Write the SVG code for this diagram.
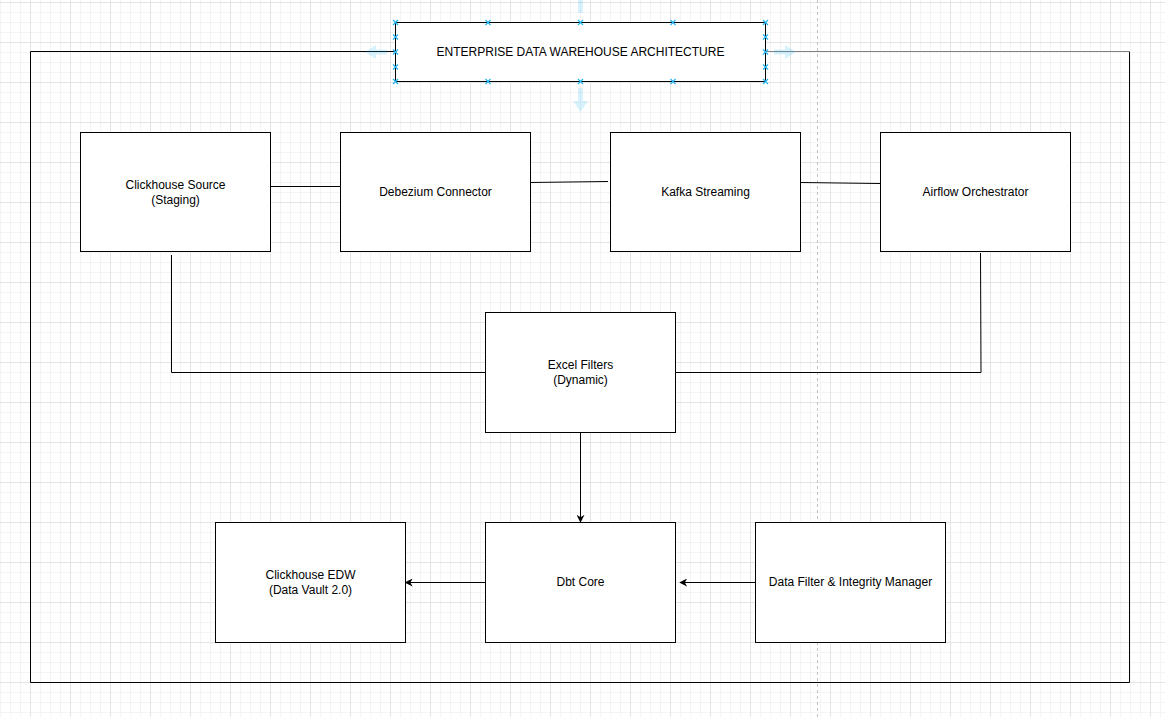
<svg xmlns="http://www.w3.org/2000/svg" width="1165" height="717" viewBox="0 0 1165 717">
<defs>
<pattern id="grid" patternUnits="userSpaceOnUse" x="30" y="2" width="40" height="40">
<path d="M10.5 0V40M20.5 0V40M30.5 0V40M0 10.5H40M0 20.5H40M0 30.5H40" stroke="#f4f4f4" stroke-width="1" fill="none"/>
<path d="M0.5 0V40M0 0.5H40" stroke="#e4e4e4" stroke-width="1" fill="none"/>
</pattern>
<marker id="arr" viewBox="0 0 10 10" refX="9" refY="5" markerWidth="8" markerHeight="8" markerUnits="userSpaceOnUse" orient="auto">
<path d="M0 0L10 5L0 10L3 5Z" fill="#000"/>
</marker>
<g id="hx"><path d="M-2.5 -2.5L2.5 2.5M-2.5 2.5L2.5 -2.5" stroke="#29b6f2" stroke-width="1.3"/></g>
</defs>
<style>
.box{fill:#fff;stroke:#000;stroke-width:1}
.lbl{font-family:"Liberation Sans",Arial,sans-serif;font-size:12px;fill:#000;text-anchor:middle}
.ln{fill:none;stroke:#000;stroke-width:1}
.hov{fill:#29b6f2;opacity:0.18}
</style>
<rect width="1165" height="717" fill="#fff"/>
<rect width="1165" height="717" fill="url(#grid)"/>
<line x1="817.5" y1="0" x2="817.5" y2="717" stroke="#c0c0c0" stroke-dasharray="3,3"/>

<g id="frame">
<path class="ln" d="M395 51.5H30.5V682.5H1129.5V51.5"/>
<line x1="766" y1="51.5" x2="1129.5" y2="51.5" stroke="#808080" stroke-width="1.2"/>
</g>

<g id="connectors">
<line class="ln" x1="270" y1="186.5" x2="340" y2="186.5"/>
<line class="ln" x1="530" y1="182.5" x2="608" y2="181.5"/>
<line class="ln" x1="800" y1="182.5" x2="880" y2="183.5"/>
<path class="ln" d="M171.5 255V372.5H485"/>
<path class="ln" d="M980.5 253L981 372.5H675"/>
<line class="ln" x1="580.5" y1="432" x2="580.5" y2="522" marker-end="url(#arr)"/>
<line class="ln" x1="485" y1="582.5" x2="405.5" y2="582.5" marker-end="url(#arr)"/>
<line class="ln" x1="755" y1="582.5" x2="680" y2="582.5" marker-end="url(#arr)"/>
</g>

<g id="title">
<rect class="box" x="395.5" y="22.5" width="370" height="59"/>
<text class="lbl" x="580.5" y="56">ENTERPRISE DATA WAREHOUSE ARCHITECTURE</text>
</g>
<g id="selection">
<use href="#hx" x="395.5" y="22.5"/><use href="#hx" x="488" y="22.5"/><use href="#hx" x="580.5" y="22.5"/><use href="#hx" x="673" y="22.5"/><use href="#hx" x="765.5" y="22.5"/>
<use href="#hx" x="395.5" y="81.5"/><use href="#hx" x="488" y="81.5"/><use href="#hx" x="580.5" y="81.5"/><use href="#hx" x="673" y="81.5"/><use href="#hx" x="765.5" y="81.5"/>
<use href="#hx" x="395.5" y="37"/><use href="#hx" x="395.5" y="52"/><use href="#hx" x="395.5" y="67"/>
<use href="#hx" x="765.5" y="37"/><use href="#hx" x="765.5" y="52"/><use href="#hx" x="765.5" y="67"/>
<path class="hov" d="M578 0H583V13H578Z"/>
<path class="hov" d="M578 88H583V101H588L580.5 112L573 101H578Z"/>
<path class="hov" d="M387 49.5V54.5H376V59L365 52L376 45V49.5Z"/>
<path class="hov" d="M774 49.5V54.5H785V59L796 52L785 45V49.5Z"/>
</g>

<g id="clickhouse-source">
<rect class="box" x="80.5" y="132.5" width="190" height="119"/>
<text class="lbl" x="175.5" y="189">Clickhouse Source</text>
<text class="lbl" x="175.5" y="204">(Staging)</text>
</g>
<g id="debezium">
<rect class="box" x="340.5" y="132.5" width="190" height="119"/>
<text class="lbl" x="435.5" y="196">Debezium Connector</text>
</g>
<g id="kafka">
<rect class="box" x="610.5" y="132.5" width="190" height="119"/>
<text class="lbl" x="705.5" y="196">Kafka Streaming</text>
</g>
<g id="airflow">
<rect class="box" x="880.5" y="132.5" width="190" height="119"/>
<text class="lbl" x="975.5" y="196">Airflow Orchestrator</text>
</g>
<g id="excel-filters">
<rect class="box" x="485.5" y="312.5" width="190" height="120"/>
<text class="lbl" x="580.5" y="369">Excel Filters</text>
<text class="lbl" x="580.5" y="384">(Dynamic)</text>
</g>
<g id="clickhouse-edw">
<rect class="box" x="215.5" y="522.5" width="190" height="120"/>
<text class="lbl" x="310.5" y="579">Clickhouse EDW</text>
<text class="lbl" x="310.5" y="594">(Data Vault 2.0)</text>
</g>
<g id="dbt-core">
<rect class="box" x="485.5" y="522.5" width="190" height="120"/>
<text class="lbl" x="580.5" y="586">Dbt Core</text>
</g>
<g id="data-filter">
<rect class="box" x="755.5" y="522.5" width="190" height="120"/>
<text class="lbl" x="850.5" y="586">Data Filter &amp; Integrity Manager</text>
</g>
</svg>
